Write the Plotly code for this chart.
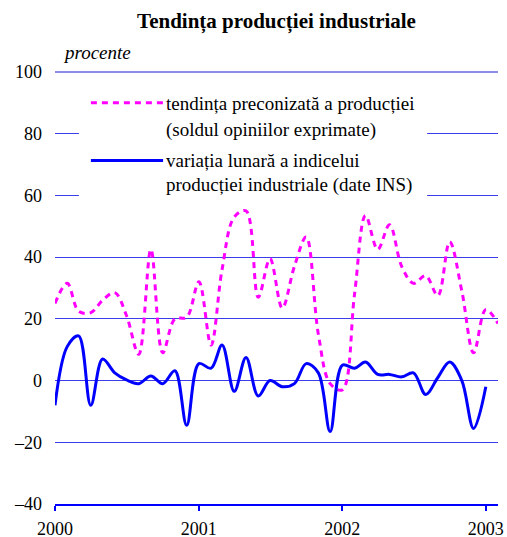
"""
Tendința producției industriale, ian. 2000 - feb. 2003.
Două serii lunare: soldul opiniilor (linie punctată) și
variația lunară a indicelui producției industriale (date INS).
"""

import pandas as pd
import plotly.graph_objects as go


# ──────────────────────────────────────────────────────────────────────────────
# Date (procente)
# ──────────────────────────────────────────────────────────────────────────────

tendinta = [
    25, 31.5, 22.5, 22, 26, 28.5, 21, 8.5, 42.5, 9, 20, 20.5,
    32, 11.5, 36, 53, 55, 27, 39.5, 23.5, 37, 46.5, 15, -1,
    -3, 28, 53.5, 42.5, 50.5, 37, 31.5, 34, 27.5, 45, 29, 9,
    23, 18.5,
]

variatie_ins = [
    -8, 11, 14.5, -8, 7, 2.5, 0.2, -1, 1.5, -1, 3.2, -14.5,
    5.5, 4, 11.5, -3.5, 7.5, -5, 0, -2, -1, 5.5, 2.5, -16.5,
    5, 4, 6, 2, 2, 1.2, 2.5, -4.5, 1, 6, 0, -15.5,
    -2,
]

luni = pd.date_range("2000-01-01", periods=len(tendinta), freq="MS")

y_ticks = [-40, -20, 0, 20, 40, 60, 80, 100]
y_labels = ["–40", "–20", "0", "20", "40", "60", "80", "100"]
ani = ["2000-01-01", "2001-01-01", "2002-01-01", "2003-01-01"]
ani_labels = ["2000", "2001", "2002", "2003"]

eticheta_1 = ["tendința preconizată a producției", "(soldul opiniilor exprimate)"]
eticheta_2 = ["variația lunară a indicelui", "producției industriale (date INS)"]

FONT = "Liberation Serif, Times New Roman, serif"
MAGENTA = "#ff00ff"
ALBASTRU = "#0000ff"
GRILA = "#3c3ce8"
PUNCTAT = "6px,5px"


def grafic() -> go.Figure:
    fig = go.Figure()

    fig.add_trace(go.Scatter(
        x=luni, y=tendinta,
        mode="lines",
        line={"color": MAGENTA, "width": 3, "dash": PUNCTAT,
              "shape": "spline", "smoothing": 1},
        showlegend=False,
    ))
    fig.add_trace(go.Scatter(
        x=luni[:len(variatie_ins)], y=variatie_ins,
        mode="lines",
        line={"color": ALBASTRU, "width": 3,
              "shape": "spline", "smoothing": 1},
        showlegend=False,
    ))

    # linia de sus (100) - plotly nu desenează grila la marginea zonei
    fig.add_shape(type="line", xref="paper", yref="paper",
                  x0=0, x1=1, y0=1, y1=1,
                  line={"color": "#1c1cd0", "width": 1})

    # legenda desenată manual (fundal alb peste grilă)
    fig.add_shape(type="rect", xref="paper", yref="paper",
                  x0=0.054, x1=0.84, y0=0.692, y1=0.97,
                  fillcolor="white", line={"width": 0}, layer="above")
    fig.add_shape(type="line", xref="paper", yref="paper",
                  x0=0.081, x1=0.244, y0=0.929, y1=0.929,
                  line={"color": MAGENTA, "width": 3, "dash": PUNCTAT})
    fig.add_shape(type="line", xref="paper", yref="paper",
                  x0=0.081, x1=0.244, y0=0.795, y1=0.795,
                  line={"color": ALBASTRU, "width": 3})

    for text, y in zip(eticheta_1 + eticheta_2, [0.926, 0.866, 0.796, 0.738]):
        fig.add_annotation(
            text=text, xref="paper", yref="paper", x=0.245, y=y,
            xanchor="left", yanchor="middle", showarrow=False,
            font={"family": FONT, "size": 19, "color": "black"},
        )

    fig.add_annotation(
        text="<i>procente</i>", xref="paper", yref="paper", x=0.013, y=1.044,
        xanchor="left", yanchor="middle", showarrow=False,
        font={"family": FONT, "size": 19, "color": "black"},
    )

    fig.update_layout(
        title={"text": "<b>Tendința producției industriale</b>",
               "x": 0.5, "xref": "paper", "xanchor": "center",
               "y": 0.961, "yanchor": "middle",
               "font": {"family": FONT, "size": 21, "color": "black"}},
        width=507, height=537,
        margin={"l": 55, "r": 9, "t": 72, "b": 33},
        plot_bgcolor="white", paper_bgcolor="white",
        font={"family": FONT, "size": 18, "color": "black"},
        xaxis={
            "type": "date", "range": ["2000-01-01", "2003-02-01"],
            "tickvals": ani, "ticktext": ani_labels,
            "showgrid": False, "zeroline": False,
            "showline": True, "linecolor": ALBASTRU, "linewidth": 2,
            "ticks": "outside", "ticklen": 5, "tickwidth": 1.5,
            "tickcolor": ALBASTRU, "ticklabelstandoff": 2,
            "ticklabeloverflow": "allow", "automargin": False,
        },
        yaxis={
            "range": [-40, 100],
            "tickvals": y_ticks, "ticktext": y_labels,
            "showgrid": True, "gridcolor": GRILA, "gridwidth": 1,
            "zeroline": False, "showline": False, "ticks": "",
            "ticklabelstandoff": 12, "automargin": False,
        },
    )
    return fig


def main() -> None:
    fig = grafic()
    # fără marginea implicită de 8px a paginii și fără bara de instrumente
    fig.write_html("out.html", config={"displayModeBar": False},
                   post_script="document.body.style.margin='0';")


if __name__ == "__main__":
    main()
